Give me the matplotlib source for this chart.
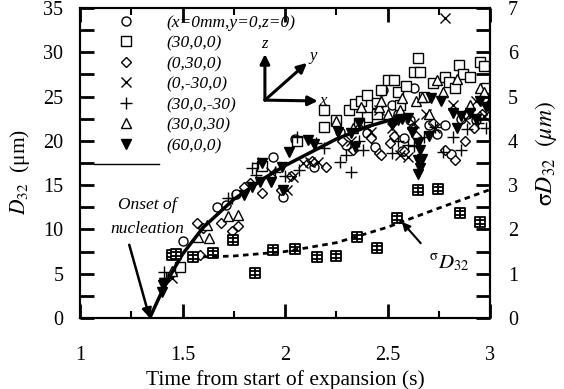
import matplotlib
matplotlib.use("Agg")
import matplotlib.pyplot as plt
from matplotlib.lines import Line2D
from matplotlib.path import Path
from matplotlib.ticker import MultipleLocator, FormatStrFormatter

plt.rcParams['font.family'] = ['Liberation Serif', 'DejaVu Serif']
plt.rcParams['mathtext.fontset'] = 'stix'

# ---------------- data ----------------
labels = ["(x=0mm,y=0,z=0)", "(30,0,0)", "(0,30,0)", "(0,-30,0)",
          "(30,0,-30)", "(30,0,30)", "(60,0,0)"]

s1_x = [1.50, 1.67, 1.71, 1.76, 1.94, 1.99, 2.05, 2.14, 2.25, 2.27, 2.30, 2.40, 2.44, 2.47,
        2.48, 2.52, 2.55, 2.57, 2.61, 2.63, 2.70, 2.74, 2.78, 2.81, 2.86, 2.89, 2.93, 2.97, 2.40, 2.58]
s1_y = [8.7, 12.5, 12.8, 14.0, 18.2, 13.7, 20.2, 17.0, 22.4, 21.0, 19.5, 20.9, 19.3, 25.6,
        25.7, 24.0, 23.0, 18.8, 22.4, 26.0, 21.8, 20.8, 21.8, 18.5, 22.5, 23.0, 22.3, 24.8, 22.0, 20.3]

s2_x = [1.49, 1.89, 2.06, 2.19, 2.19, 2.25, 2.31, 2.34, 2.37, 2.40, 2.40, 2.45, 2.47, 2.50,
        2.53, 2.55, 2.59, 2.63, 2.65, 2.66, 2.68, 2.72, 2.78, 2.80, 2.83, 2.85, 2.87, 2.90,
        2.95, 2.97, 2.98, 2.45, 2.36, 2.56]
s2_y = [5.8, 17.2, 20.0, 21.6, 23.5, 22.3, 23.5, 24.2, 24.5, 25.2, 22.7, 24.3, 25.7, 26.9,
        26.9, 25.5, 26.2, 27.8, 29.3, 27.8, 25.0, 26.5, 27.2, 26.6, 26.0, 28.6, 27.5, 27.2,
        28.9, 28.5, 26.0, 23.0, 22.0, 24.0]

s3_x = [1.585, 1.57, 1.60, 1.69, 1.74, 1.77, 1.80, 1.83, 1.89, 1.98, 2.03, 2.13, 2.20, 2.28,
        2.33, 2.42, 2.46, 2.47, 2.51, 2.53, 2.62, 2.64, 2.78, 2.83, 2.88, 2.92, 2.96, 2.72, 2.58]
s3_y = [7.1, 10.7, 10.2, 10.7, 9.8, 10.4, 14.8, 15.2, 14.1, 14.5, 16.0, 17.7, 17.0, 20.0,
        19.0, 20.3, 18.6, 18.4, 19.8, 20.5, 21.5, 20.5, 19.0, 17.8, 20.0, 21.5, 23.0, 22.0, 18.9]

s4_x = [1.45, 1.93, 2.01, 2.04, 2.09, 2.12, 2.16, 2.32, 2.36, 2.46, 2.52, 2.56, 2.60, 2.63,
        2.69, 2.73, 2.78, 2.82, 2.88, 2.93, 2.97, 2.42]
s4_y = [4.5, 16.5, 14.5, 15.9, 17.5, 17.6, 17.6, 20.0, 22.0, 23.5, 21.5, 18.4, 18.2, 22.0,
        23.0, 21.5, 33.9, 24.0, 22.5, 24.5, 22.8, 21.0]

s5_x = [1.41, 1.42, 1.72, 1.74, 1.84, 1.86, 1.87, 1.95, 2.00, 2.06, 2.07, 2.15, 2.19, 2.27,
        2.30, 2.32, 2.36, 2.38, 2.52, 2.55, 2.60, 2.63, 2.68, 2.73, 2.77, 2.82, 2.86, 2.89,
        2.94, 2.98, 2.99]
s5_y = [5.2, 4.5, 13.5, 13.5, 16.9, 16.2, 17.5, 16.5, 16.0, 20.4, 16.7, 19.8, 19.2, 17.6,
        18.4, 16.5, 20.0, 19.0, 18.6, 20.0, 19.5, 19.4, 20.4, 21.6, 18.7, 20.4, 19.0, 21.3,
        22.0, 21.5, 24.0]

s6_x = [1.45, 1.575, 1.62, 1.63, 1.72, 1.77, 2.25, 2.33, 2.37, 2.46, 2.47, 2.50, 2.56, 2.64,
        2.67, 2.70, 2.74, 2.77, 2.84, 2.90, 2.95, 2.97, 2.57]
s6_y = [5.3, 9.1, 10.5, 9.0, 11.5, 11.6, 22.2, 21.5, 23.8, 23.8, 24.5, 23.0, 23.5, 24.5,
        25.0, 23.0, 26.9, 25.5, 27.0, 24.0, 26.0, 25.5, 24.8]

s7_x = [1.40, 1.405, 1.41, 1.80, 1.84, 1.88, 1.89, 1.93, 1.985, 1.99, 2.02, 2.11, 2.14, 2.26,
        2.32, 2.34, 2.36, 2.52, 2.55, 2.57, 2.60, 2.62, 2.65, 2.66, 2.65, 2.66, 2.67, 2.65,
        2.71, 2.76, 2.82, 2.86, 2.90, 2.93, 2.98, 2.95, 2.84, 2.70]
s7_y = [2.9, 3.7, 4.0, 13.9, 14.8, 15.4, 17.5, 15.3, 17.1, 14.5, 18.7, 20.1, 19.7, 21.0,
        20.9, 19.3, 22.0, 21.8, 22.3, 22.5, 22.6, 21.0, 19.8, 19.0, 17.8, 16.9, 18.0, 16.3,
        24.8, 24.5, 23.2, 22.8, 23.2, 22.5, 23.8, 24.5, 21.5, 20.5]

# standard deviation (right axis, um)
sig_x = [1.45, 1.47, 1.55, 1.65, 1.746, 1.854, 1.941, 2.049, 2.156, 2.249, 2.351, 2.449,
         2.546, 2.649, 2.746, 2.854, 2.951]
sig_y = [1.42, 1.45, 1.38, 1.47, 1.76, 1.02, 1.54, 1.56, 1.38, 1.40, 1.83, 1.58,
         2.26, 2.89, 2.91, 2.37, 2.17]

# fitted curves
fit_x = [1.34, 1.40, 1.45, 1.50, 1.60, 1.75, 1.90, 2.00, 2.25, 2.40, 2.55]
fit_y = [0.0, 3.0, 5.2, 7.2, 10.2, 13.4, 15.8, 17.2, 20.2, 21.6, 22.6]

sfit_x = [1.60, 1.75, 2.00, 2.25, 2.50, 2.75, 3.00]
sfit_y = [1.38, 1.40, 1.50, 1.70, 2.05, 2.48, 2.90]

# ---------------- figure ----------------
fig = plt.figure(figsize=(5.64, 3.89), dpi=100)
ax = fig.add_axes([80/564, 71/389, 410/564, 310/389])
ax2 = ax.twinx()

ms = 6.5
mew = 1.0
styles = [
    dict(marker='o', mfc='white', mec='black'),
    dict(marker='s', mfc='white', mec='black'),
    dict(marker='D', mfc='white', mec='black', ms=5.5),
    dict(marker='x', mfc='none', mec='black'),
    dict(marker='+', mfc='none', mec='black', ms=8),
    dict(marker='^', mfc='white', mec='black'),
    dict(marker='v', mfc='black', mec='black'),
]
series = [(s1_x, s1_y), (s2_x, s2_y), (s3_x, s3_y), (s4_x, s4_y),
          (s5_x, s5_y), (s6_x, s6_y), (s7_x, s7_y)]

handles = []
for (sx, sy), st in zip(series, styles):
    kw = dict(ms=ms, mew=mew)
    kw.update(st)
    ax.plot(sx, sy, ls='none', zorder=3, **kw)
    handles.append(Line2D([], [], ls='none', **kw))

ax.plot(fit_x, fit_y, color='black', lw=2.5, zorder=4)

# sigma marker: square with grid lines
verts = [(-1, -1), (1, -1), (1, 1), (-1, 1), (-1, -1),
         (-1, -0.33), (1, -0.33), (-1, 0.33), (1, 0.33), (0, -1), (0, 1)]
codes = [Path.MOVETO, Path.LINETO, Path.LINETO, Path.LINETO, Path.CLOSEPOLY,
         Path.MOVETO, Path.LINETO, Path.MOVETO, Path.LINETO, Path.MOVETO, Path.LINETO]
grid_sq = Path(verts, codes)
ax2.plot(sig_x, sig_y, ls='none', marker=grid_sq, ms=7, mfc='white', mec='black', mew=1.3, zorder=3)
ax2.plot(sfit_x, sfit_y, color='black', lw=2.0, ls=(0, (2.0, 1.6)), zorder=4)

handles.append(Line2D([], [], color='black', lw=1))
leg_labels = labels + [""]
leg = ax.legend(handles, leg_labels, loc='upper left', bbox_to_anchor=(0.035, 0.978),
                frameon=False, borderpad=0, borderaxespad=0, handlelength=3.7,
                handletextpad=0.45, labelspacing=0.25,
                prop=dict(family='Liberation Serif', style='italic', size=12.5))

# axes limits / ticks
ax.set_xlim(1, 3)
ax.set_ylim(0, 35)
ax2.set_ylim(0, 7)
ax.xaxis.set_major_locator(MultipleLocator(0.5))
ax.xaxis.set_minor_locator(MultipleLocator(0.25))
ax.xaxis.set_major_formatter(FormatStrFormatter('%g'))
ax.yaxis.set_major_locator(MultipleLocator(5))
ax.yaxis.set_minor_locator(MultipleLocator(2.5))
ax2.yaxis.set_major_locator(MultipleLocator(1))
ax2.yaxis.set_minor_locator(MultipleLocator(0.5))

fs_tick = 14.5
ax.tick_params(axis='x', which='both', direction='in', top=True, bottom=True, pad=20, labelsize=fs_tick)
ax.tick_params(axis='x', which='major', length=10, width=2)
ax.tick_params(axis='x', which='minor', length=5, width=1.5)
ax.tick_params(axis='y', which='both', direction='in', left=True, right=False, pad=12, labelsize=fs_tick)
ax.tick_params(axis='y', which='major', length=10, width=2)
ax.tick_params(axis='y', which='minor', length=10, width=2)
ax2.tick_params(axis='y', which='both', direction='in', right=True, pad=13, labelsize=fs_tick)
ax2.tick_params(axis='y', which='major', length=10, width=2)
ax2.tick_params(axis='y', which='minor', length=10, width=2)
for a in (ax, ax2):
    for sp in a.spines.values():
        sp.set_linewidth(1.5)

ax.set_xlabel("Time from start of expansion (s)", fontsize=15.5, labelpad=4)
ax.set_ylabel(r"$D_{32}$  (μm)", fontsize=15.5)
ax.yaxis.set_label_coords(-0.118, 0.47)
ax2.set_ylabel(r"$\mathrm{\sigma}D_{32}\ \ (\mu m)$", fontsize=17)
ax2.yaxis.set_label_coords(1.105, 0.53)

# coordinate system arrows
ox, oy = 1.902, 24.6
ap = dict(arrowstyle='-|>', lw=2.2, color='black', mutation_scale=14, shrinkA=0, shrinkB=0)
ax.annotate("", xy=(1.902, 29.8), xytext=(ox, oy), arrowprops=ap)
ax.annotate("", xy=(2.107, 28.8), xytext=(ox, oy), arrowprops=ap)
ax.annotate("", xy=(2.16, 24.5), xytext=(ox, oy), arrowprops=ap)
ax.text(1.902, 30.9, "z", style='italic', fontsize=12, ha='center', va='center')
ax.text(2.135, 29.6, "y", style='italic', fontsize=12, ha='center', va='center')
ax.text(2.185, 24.5, "x", style='italic', fontsize=12, ha='center', va='center')

# onset annotation
ax.annotate("Onset of\nnucleation", xy=(1.34, 0.0), xytext=(1.33, 11.4),
            ha='center', va='center', style='italic', fontsize=12.5, linespacing=1.6,
            arrowprops=dict(arrowstyle='-|>', lw=1.8, color='black', mutation_scale=14,
                            shrinkA=4, shrinkB=0, relpos=(0.22, 0.0)))

# sigma annotation
ax2.annotate(r"$^{\mathrm{\sigma}}D_{32}$", xy=(2.57, 2.17), xytext=(2.80, 1.25),
             ha='center', va='center', fontsize=15,
             arrowprops=dict(arrowstyle='-|>', lw=1.5, color='black', mutation_scale=12,
                             shrinkA=6, shrinkB=0, relpos=(0.0, 1.0)))

fig.savefig("out.png", dpi=100)
